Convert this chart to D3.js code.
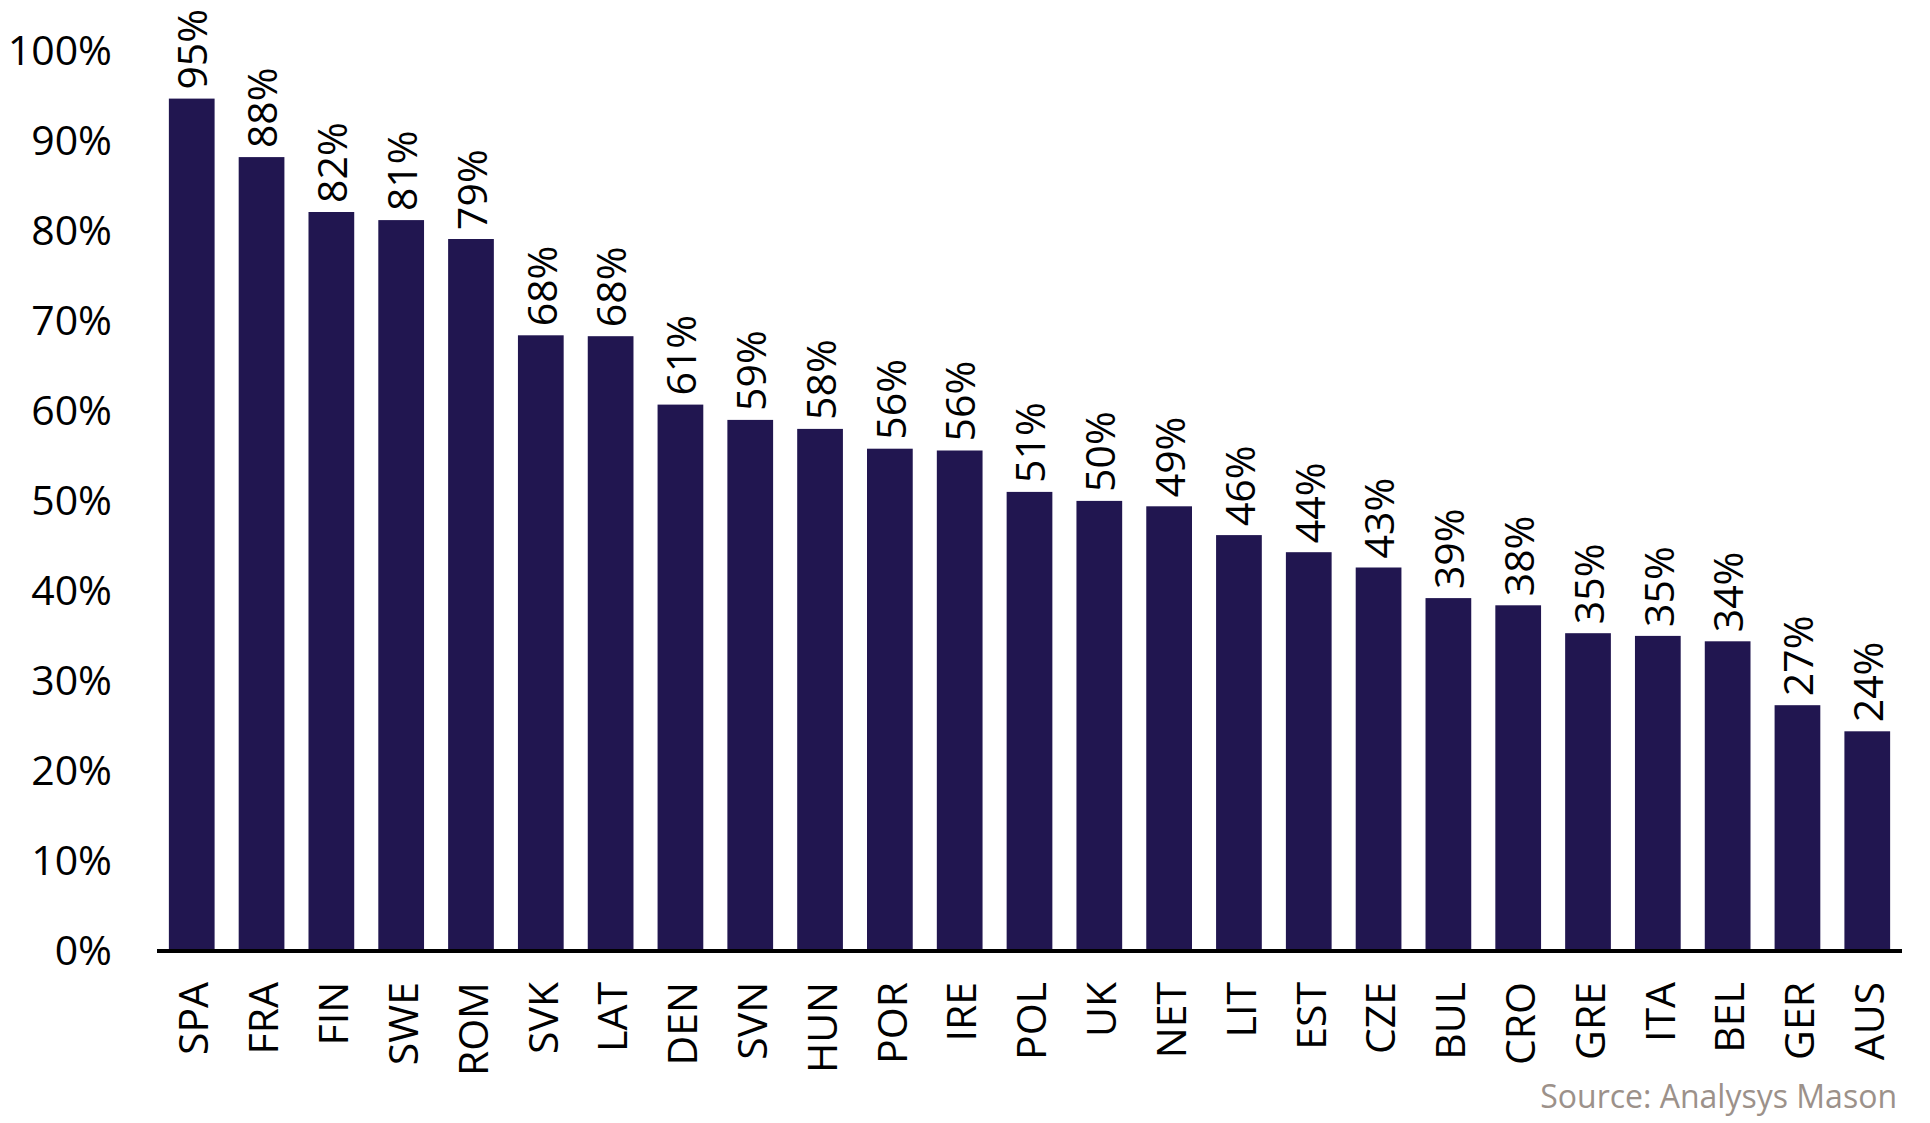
<!DOCTYPE html>
<html>
<head>
<meta charset="utf-8">
<script src="https://cdn.jsdelivr.net/npm/d3@7"></script>
<style>
  html, body { margin: 0; padding: 0; background: #ffffff; }
  svg { display: block; }
  text { font-family: "Open Sans", "Noto Sans", sans-serif; fill: #000; }
</style>
</head>
<body>
<svg id="chart" width="1930" height="1123"></svg>
<script>
const categories = ["SPA","FRA","FIN","SWE","ROM","SVK","LAT","DEN","SVN","HUN","POR","IRE","POL","UK","NET","LIT","EST","CZE","BUL","CRO","GRE","ITA","BEL","GER","AUS"];
const values = [94.6, 88.1, 82.0, 81.1, 79.0, 68.3, 68.2, 60.6, 58.9, 57.9, 55.7, 55.5, 50.9, 49.9, 49.3, 46.1, 44.2, 42.5, 39.1, 38.3, 35.2, 34.9, 34.3, 27.2, 24.3];
const yTicks = [0, 10, 20, 30, 40, 50, 60, 70, 80, 90, 100];
const sourceText = "Source: Analysys Mason";

const data = categories.map((c, i) => ({ cat: c, val: values[i] }));

const FONT = "'Open Sans', 'Noto Sans', sans-serif";
const svg = d3.select("#chart");
const x = d3.scaleBand().domain(categories).range([157, 1902]).paddingInner(0.345).paddingOuter(0.17);
const y = d3.scaleLinear().domain([0, 100]).range([950, 50]);

const fs = 41;

// bars
svg.append("g").selectAll("rect").data(data).join("rect")
  .attr("x", d => x(d.cat))
  .attr("y", d => y(d.val))
  .attr("width", x.bandwidth())
  .attr("height", d => y(0) - y(d.val))
  .attr("fill", "#211650");

// y axis labels (no line)
const yAxis = d3.axisLeft(y).tickValues(yTicks).tickFormat(d => d + "%").tickSize(0).tickPadding(0);
const yg = svg.append("g").attr("transform", "translate(112,0)").call(yAxis);
yg.select(".domain").remove();
yg.selectAll("text").attr("font-size", fs).attr("font-family", FONT).attr("fill", "#000").attr("dy", "0.36em");

// x axis
const xAxis = d3.axisBottom(x).tickSize(0).tickPadding(0);
const xg = svg.append("g").attr("transform", `translate(0,${y(0)})`).call(xAxis);
xg.select(".domain").attr("stroke", "#000").attr("stroke-width", 4).attr("d", "M157,1H1902");
xg.selectAll(".tick text")
  .attr("font-size", fs).attr("font-family", FONT).attr("fill", "#000")
  .attr("text-anchor", "end")
  .attr("transform", "translate(2,32) rotate(-90)")
  .attr("x", 0).attr("y", 0).attr("dy", "0.36em");

// value labels
svg.append("g").selectAll("text").data(data).join("text")
  .attr("transform", d => `translate(${x(d.cat) + x.bandwidth() / 2 + 1},${y(d.val) - 9}) rotate(-90)`)
  .attr("dy", "0.36em")
  .attr("text-anchor", "start")
  .attr("font-size", fs)
  .attr("font-family", FONT)
  .text(d => Math.round(d.val) + "%");

// source
svg.append("text")
  .attr("x", 1897).attr("y", 1108)
  .attr("text-anchor", "end")
  .attr("font-size", 32)
  .attr("font-family", FONT)
  .style("fill", "#9c918a")
  .text(sourceText);
</script>
</body>
</html>
